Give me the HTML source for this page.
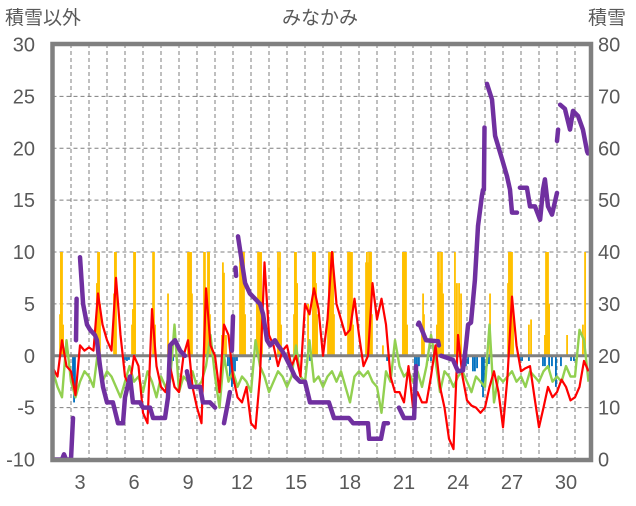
<!DOCTYPE html>
<html><head><meta charset="utf-8">
<style>
body{margin:0;background:#fff;}
svg text{font-family:"Liberation Sans","Noto Sans CJK JP",sans-serif;fill:#595959;}
</style></head>
<body>
<svg id="chart" width="636" height="501" viewBox="0 0 636 501" xmlns="http://www.w3.org/2000/svg">
<defs><clipPath id="plotclip"><rect x="54" y="45" width="535" height="414"/></clipPath></defs>
<text x="5" y="24" font-size="19">積雪以外</text>
<text x="320" y="24" font-size="19" text-anchor="middle">みなかみ</text>
<text x="588" y="24" font-size="19">積雪</text>
<g id="grid"></g>
<g id="marks" clip-path="url(#plotclip)"></g>
<g id="axes"></g>
</svg>
<script>
// ---- data ----
const leftTicks = [30,25,20,15,10,5,0,-5,-10];
const rightTicks = [80,70,60,50,40,30,20,10,0];
const dayLabels = [3,6,9,12,15,18,21,24,27,30];
// temperature (red), every 6 hours starting day 2.0
const tempVals = [-1.2,-2,1.5,-1, -1.5,-3.8,1,0.5, 0.8,0.5,6,3, 1.5,0.5,7.5,2, -2,-3,0,-1,
 -5.5,-6.5,4.5,-1, -3,-3.5,-1,-3, -3.5,0,1.5,-3, -5,-6.5,6.5,1, 0,-3.5,3,2,
 -2,-4,-4.5,-3, -6.5,-7,-2,9, 2,1,-1,0.5, 1,-1,0,-2, 5,4,6.5,4.5,
 0,3.5,10,5, 3.5,2,2.5,5.5, 2,-1,0,7, 3.5,5.5,3,-2, -3.5,-3.5,-4.5,-1,
 -5,-3.5,-4.5,-4.5, -2,1,-3,-5, -8,-9,2,-2, -4.3,-4.8,-5,-5.5, -5,-3,-1.5,-3.5,
 -6.9,-2,5.7,1, -1.5,-1.2,-1,-4, -6.9,-5,-3,-4, -3.5,-2.3,-3,-4.3, -4,-3,-0.5,-1.5];
// green series, every 6 hours starting day 2.0
const greenVals = [-1.5,-3,-4,1.5, -2.5,-4,-2.5,-1.5, -2,-3,0.5,-2.5, -1.5,-2,-3,-4, -2.5,-1,-2.5,-2,
 -3.5,-1.5,-2.5,-4, -2,-3,-2.5,3, -3.5,-2,-2.5,-1.5, -3,-2.5,-1,2, -2,-5,0,-2.5,
 -1.5,-3,-2,-2.5, -3.5,1.5,-1,-2, -3.5,-2.5,-1.5,-2, -3,-2,1,-2, -2.5,1.5,-2.5,-2,
 -3,-2,-1.5,-2.5, -1.5,-3,-4.5,-2, -1.5,-2,-1.5,-2.5, -3,-5.5,-1.5,-2.5, 1.5,-1,-2,-1.5,
 -2.5,-1.5,-3,-1, 2,-0.5,-3.5,-1.5, -2,-3,-2,-1.5, -2.5,-3.5,-2,-2.5, -3,3,-4.5,-2,
 -2.5,-2,-1.5,-2.5, -2,-3,-1.5,-2, -2.5,-1.5,-1,-2.5, -2,-2.5,-1,-2, -2,2.5,1.5,-2.5];
// snow depth (cm, right axis); null = gap
const snowT = [2.00,2.50,2.61,2.72,3.00,3.11,null,3.28,3.31,null,
 3.50,3.67,3.89,4.06,4.33,4.44,4.61,4.78,5.00,5.33,5.61,5.89,6.00,6.28,6.44,6.83,7.00,7.39,7.56,8.22,8.39,8.50,8.78,9.06,9.33,null,
 9.44,9.61,10.17,10.33,10.72,11.00,null,11.50,11.72,11.83,null,11.94,12.00,null,12.14,12.17,null,
 12.28,12.67,12.94,13.22,13.50,13.67,13.89,14.06,14.33,14.50,14.72,14.89,15.17,15.44,15.72,16.00,16.28,17.33,17.61,18.44,18.67,19.50,19.56,20.22,20.39,20.61,null,
 21.22,21.50,22.06,22.17,null,22.28,22.33,22.56,22.72,23.39,23.44,null,
 23.56,24.22,24.50,24.78,24.94,25.06,25.22,25.44,25.61,25.83,25.89,null,25.94,25.97,null,
 26.11,26.39,26.56,26.94,27.22,27.39,27.50,27.78,null,
 27.94,28.33,28.50,28.78,29.06,29.22,29.33,29.50,29.72,30.00,null,30.00,30.06,null,
 30.17,30.44,30.72,30.89,31.17,31.44,31.67,31.72];
const snowD = [0,0,1,0,0,8,null,23,31,null,
 39,30,26,25,24,23,18,14,11,11,7,7,12,16,11,11,10,10,8,8,12,22,23,21,20,null,
 17,14,14,11,11,10,null,7,11,13,null,21,27.6,null,37,35.4,null,
 43,34,32,31,30,28,23,22,23,22,21,20,18,16,15,15,11,11,8,8,7,7,4,4,7,7,null,
 10,8,8,18,null,26,26.4,24.4,23,22.8,22,null,
 20,19.2,17,17.2,21.8,26,26.4,34.6,45,50.8,52,null,52,64,null,
 72.4,69.4,62.4,58,54.6,52,47.6,47.6,null,
 52.4,52.4,48.8,48.8,46.2,52,54,48.8,47.2,51.4,null,61.4,63.6,null,
 68.4,67.6,63.6,67.2,66.2,63.6,59.4,59];
// precipitation bars (orange)
const precipT = [2.39,2.44,2.50,2.56, 4.44,4.50,4.56,4.61, 5.39,5.44,5.50, 6.39,6.44,6.50,6.56, 7.56,7.61,7.67, 8.39,
 9.50,9.56,9.61,9.67,9.72, 10.39,10.44,10.50,10.61,10.67,10.72, 11.39,11.44,11.50,11.61,
 12.39,12.44,12.50,12.56,12.61,12.67, 13.33,13.39,13.44,13.50,13.56,13.61, 14.50,14.56,14.61,14.67,
 15.39,15.44,15.50,15.56, 16.17,16.44,16.50,16.56,16.61,16.67, 17.28,17.33,17.39,17.44,17.50,17.56,17.61,
 18.39,18.44,18.50,18.56,18.61,18.67, 19.39,19.44,19.50,19.56,19.61,19.67,19.72, 20.33,
 21.44,21.50,21.56,21.61,21.67, 22.50,22.56,22.61, 23.33,23.39,23.44,23.50,23.56,23.61,23.67,
 24.33,24.44,24.56,24.67, 26.28, 27.28,27.33,27.39,27.44,27.50,27.56, 28.44,28.56,
 29.33,29.39,29.44,29.50,29.56, 30.56, 31.44,31.56];
const precipV = [4,10,10,3, 7,10,10,5, 6,10,10, 3,4.5,10,10, 10,10,3, 6,
 10,10,10,10,6, 10,10,6,10,10,4, 2,9,8,2,
 10,10,10,10,10,4, 5,10,10,10,10,5, 10,8.5,10,3,
 4,10,10,7, 5,10,10,10,7,4, 4,10,10,10,10,10,4,
 10,10,10,10,10,3, 9,10,9,10,10,10,4, 1,
 10,10,10,10,3, 3,6,4, 3,10,10,7,10,10,6,
 10,7,7,6, 6, 7,10,10,10,10,4, 3,3.5,
 2,10,10,10,5, 2, 3,10];
// negative bars (blue)
const blueT = [2.67,3.11,3.17,3.22, 6.00,6.11,6.22, 8.67, 11.72,11.83,11.94,12.00,12.11,12.22,
 14.06,16.28,20.56, 22.11,22.22,22.33, 22.83,23.00,23.28,
 24.94,25.06,25.33,25.44,25.56,25.83,25.89,25.94,26.11,26.22,
 27.94,28.06,28.44, 29.22,29.33,29.56,29.72,29.94,30.22,30.78,30.94];
const blueV = [-0.5,-2,-4.5,-3.5, -0.4,-0.5,-0.4, -0.5, -1,-2,-3,-2,-1.5,-0.5,
 -0.4,-0.5,-0.5, -1,-1.3,-1, -0.5,-0.5,-0.5,
 -1,-0.8,-1.5,-1.5,-1.2,-3,-4,-2.5,-1,-0.8,
 -0.5,-0.5,-0.5, -1,-1,-1.2,-1,-3,-1,-0.5,-0.5];

// ---- scales ----
const X0 = 53, DAYPX = 18, PL = 52.5, PR = 591, PT = 44, PB = 460;
function xs(t){ return X0 + (t-2)*DAYPX; }
function yl(v){ return 459.5 - (v+10)*10.375; }
function yr(s){ return 459.5 - s*5.1875; }
const NS = 'http://www.w3.org/2000/svg';
function mk(tag, attrs, parent){
  const e = document.createElementNS(NS, tag);
  for (const k in attrs) e.setAttribute(k, attrs[k]);
  parent.appendChild(e); return e;
}
const grid = document.getElementById('grid');
const marks = document.getElementById('marks');
const axes = document.getElementById('axes');

for (let d = 3; d <= 31; d++) {
  const l = mk('line', {x1: xs(d), x2: xs(d), y1: PT, y2: PB, stroke: '#7f7f7f', 'stroke-width': 1, 'stroke-dasharray': '4,3'}, grid);
  
  
}
leftTicks.forEach((v, i) => {
  if (v !== 0 && v !== 30 && v !== -10) {
    const l = mk('line', {x1: PL, x2: PR, y1: yl(v), y2: yl(v), stroke: '#7f7f7f', 'stroke-width': 1, 'stroke-dasharray': '4,3'}, grid);
    
    
  }
  const t = mk('text', {x: 35, y: yl(v) + 7, 'font-size': 20, 'text-anchor': 'end'}, axes);
  t.textContent = v;
  
  
});
rightTicks.forEach(s => {
  const t = mk('text', {x: 598, y: yr(s) + 7, 'font-size': 20}, axes);
  t.textContent = s;
  
  
});
dayLabels.forEach(d => {
  const t = mk('text', {x: xs(d) + 9, y: 489, 'font-size': 20, 'text-anchor': 'middle'}, axes);
  t.textContent = d;
  
  
});

precipT.forEach((t, i) => {
  const y = yl(precipV[i]);
  const r = mk('rect', {x: xs(t) - 0.9, y: y, width: 1.8, height: yl(0) - y, fill: '#FFC000'}, marks);
  
  
});
blueT.forEach((t, i) => {
  const r = mk('rect', {x: xs(t) - 0.9, y: yl(0), width: 1.8, height: yl(blueV[i]) - yl(0), fill: '#0070C0'}, marks);
  
  
});
const z = mk('line', {x1: PL, x2: PR, y1: yl(0), y2: yl(0), stroke: '#808080', 'stroke-width': 3}, marks);



function seriesPath(vals){
  return vals.map((v, i) => (i ? 'L' : 'M') + xs(2 + i*0.25).toFixed(1) + ' ' + yl(v).toFixed(1)).join(' ');
}
const g = mk('path', {d: seriesPath(greenVals), fill: 'none', stroke: '#92D050', 'stroke-width': 2.4, 'stroke-linejoin': 'round'}, marks);


const r = mk('path', {d: seriesPath(tempVals), fill: 'none', stroke: '#FF0000', 'stroke-width': 2.2, 'stroke-linejoin': 'round'}, marks);



let d = '', pen = false;
snowT.forEach((t, i) => {
  if (t === null || snowD[i] === null) { pen = false; return; }
  d += (pen ? 'L' : 'M') + xs(t).toFixed(1) + ' ' + yr(snowD[i]).toFixed(1) + ' ';
  pen = true;
});
const p = mk('path', {d: d, fill: 'none', stroke: '#7030A0', 'stroke-width': 4.5, 'stroke-linejoin': 'round', 'stroke-linecap': 'round'}, marks);



const b = mk('rect', {x: PL, y: PT, width: PR - PL, height: PB - PT, fill: 'none', stroke: '#808080', 'stroke-width': 4.5}, axes);


</script>
</body></html>
